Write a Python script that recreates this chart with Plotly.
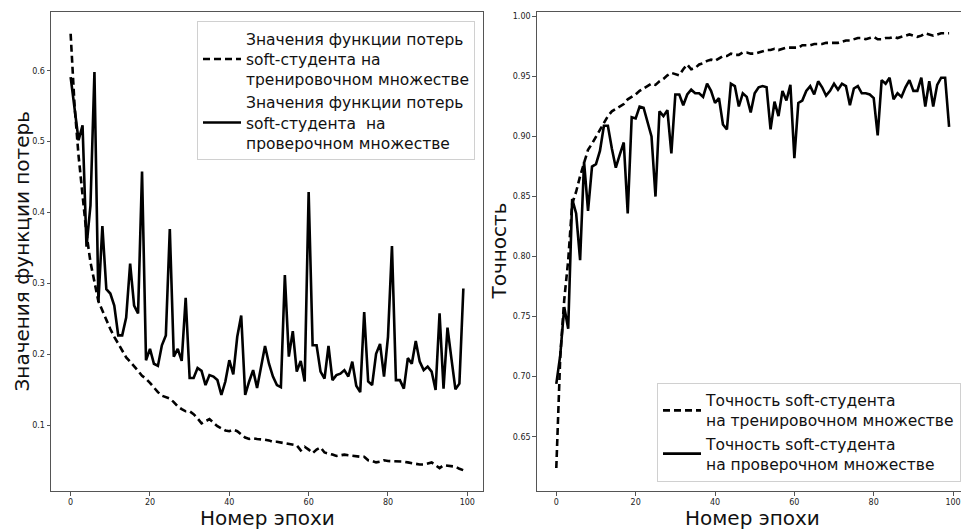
import plotly.graph_objects as go

epochs = list(range(100))

train_loss = [0.652, 0.55, 0.48, 0.42, 0.37, 0.33, 0.30, 0.275, 0.262, 0.248,
              0.236, 0.225, 0.215, 0.205, 0.196, 0.190, 0.184, 0.177, 0.170, 0.166,
              0.160, 0.153, 0.147, 0.142, 0.140, 0.138, 0.133, 0.127, 0.123, 0.120,
              0.120, 0.116, 0.110, 0.103, 0.106, 0.109, 0.104, 0.099, 0.096, 0.093,
              0.092, 0.094, 0.092, 0.087, 0.083, 0.081, 0.082, 0.081, 0.081, 0.080,
              0.079, 0.077, 0.077, 0.076, 0.076, 0.074, 0.073, 0.072, 0.065, 0.070,
              0.066, 0.061, 0.066, 0.069, 0.062, 0.061, 0.059, 0.057, 0.058, 0.059,
              0.058, 0.057, 0.056, 0.056, 0.056, 0.051, 0.050, 0.048, 0.049, 0.051,
              0.050, 0.050, 0.050, 0.049, 0.049, 0.048, 0.047, 0.045, 0.045, 0.045,
              0.046, 0.048, 0.044, 0.040, 0.044, 0.043, 0.043, 0.042, 0.039, 0.037]

val_loss = [0.591, 0.55, 0.502, 0.523, 0.352, 0.410, 0.598, 0.274, 0.381, 0.292,
            0.286, 0.269, 0.227, 0.227, 0.252, 0.328, 0.269, 0.258, 0.458, 0.192,
            0.208, 0.187, 0.184, 0.213, 0.227, 0.377, 0.197, 0.208, 0.191, 0.280,
            0.167, 0.167, 0.181, 0.177, 0.157, 0.171, 0.169, 0.164, 0.143, 0.162,
            0.192, 0.172, 0.225, 0.255, 0.143, 0.162, 0.178, 0.153, 0.180, 0.212,
            0.187, 0.169, 0.157, 0.154, 0.312, 0.197, 0.233, 0.176, 0.191, 0.162,
            0.429, 0.213, 0.213, 0.176, 0.166, 0.212, 0.164, 0.171, 0.173, 0.178,
            0.169, 0.190, 0.156, 0.147, 0.260, 0.162, 0.157, 0.201, 0.215, 0.169,
            0.225, 0.353, 0.164, 0.164, 0.152, 0.195, 0.187, 0.219, 0.190, 0.178,
            0.183, 0.176, 0.150, 0.258, 0.152, 0.238, 0.194, 0.151, 0.159, 0.293]

train_acc = [0.624, 0.717, 0.764, 0.797, 0.844, 0.854, 0.867, 0.878, 0.889, 0.894,
             0.900, 0.906, 0.911, 0.917, 0.921, 0.923, 0.925, 0.927, 0.931, 0.933,
             0.935, 0.938, 0.940, 0.942, 0.944, 0.943, 0.946, 0.948, 0.951, 0.953,
             0.952, 0.951, 0.956, 0.960, 0.956, 0.957, 0.960, 0.961, 0.963, 0.964,
             0.963, 0.965, 0.967, 0.967, 0.969, 0.968, 0.968, 0.970, 0.970, 0.969,
             0.969, 0.970, 0.971, 0.972, 0.972, 0.973, 0.972, 0.973, 0.974, 0.974,
             0.974, 0.974, 0.976, 0.976, 0.976, 0.977, 0.977, 0.977, 0.978, 0.978,
             0.978, 0.978, 0.979, 0.980, 0.980, 0.981, 0.982, 0.982, 0.981, 0.982,
             0.983, 0.981, 0.981, 0.982, 0.982, 0.983, 0.982, 0.983, 0.984, 0.985,
             0.984, 0.983, 0.984, 0.986, 0.985, 0.984, 0.985, 0.986, 0.986, 0.986]

val_acc = [0.694, 0.718, 0.758, 0.740, 0.848, 0.836, 0.797, 0.879, 0.838, 0.875,
           0.877, 0.888, 0.909, 0.909, 0.890, 0.874, 0.885, 0.895, 0.836, 0.916,
           0.915, 0.925, 0.924, 0.912, 0.900, 0.850, 0.921, 0.917, 0.922, 0.886,
           0.935, 0.935, 0.926, 0.935, 0.939, 0.936, 0.936, 0.933, 0.944, 0.938,
           0.928, 0.932, 0.910, 0.906, 0.944, 0.942, 0.925, 0.936, 0.933, 0.920,
           0.936, 0.941, 0.942, 0.941, 0.906, 0.929, 0.917, 0.938, 0.930, 0.943,
           0.882, 0.928, 0.930, 0.938, 0.942, 0.935, 0.946, 0.941, 0.934, 0.938,
           0.944, 0.939, 0.944, 0.942, 0.926, 0.940, 0.942, 0.936, 0.936, 0.935,
           0.932, 0.901, 0.947, 0.944, 0.949, 0.931, 0.936, 0.933, 0.941, 0.947,
           0.938, 0.938, 0.949, 0.925, 0.946, 0.925, 0.943, 0.949, 0.949, 0.908]

loss_ticks = [0.1, 0.2, 0.3, 0.4, 0.5, 0.6]
acc_ticks = [0.65, 0.70, 0.75, 0.80, 0.85, 0.90, 0.95, 1.00]
epoch_ticks = [0, 20, 40, 60, 80, 100]

name_train_loss = "Значения функции потерь<br>soft-студента на<br>тренировочном множестве"
name_val_loss = "Значения функции потерь<br>soft-студента  на<br>проверочном множестве"
name_train_acc = "Точность soft-студента<br>на тренировочном множестве"
name_val_acc = "Точность soft-студента<br>на проверочном множестве"
x_title = "Номер эпохи"
y_title_loss = "Значения функции потерь"
y_title_acc = "Точность"

W, H = 961, 531
FONT = "DejaVu Sans"
LW = 2.6
DASH = "7px,4px"

fig = go.Figure()
fig.add_trace(go.Scatter(x=epochs, y=train_loss, mode="lines", name=name_train_loss,
                         line=dict(color="black", width=LW, dash=DASH),
                         xaxis="x", yaxis="y", legend="legend"))
fig.add_trace(go.Scatter(x=epochs, y=val_loss, mode="lines", name=name_val_loss,
                         line=dict(color="black", width=LW),
                         xaxis="x", yaxis="y", legend="legend"))
fig.add_trace(go.Scatter(x=epochs, y=train_acc, mode="lines", name=name_train_acc,
                         line=dict(color="black", width=LW, dash=DASH),
                         xaxis="x2", yaxis="y2", legend="legend2"))
fig.add_trace(go.Scatter(x=epochs, y=val_acc, mode="lines", name=name_val_acc,
                         line=dict(color="black", width=LW),
                         xaxis="x2", yaxis="y2", legend="legend2"))

def px_x(p):
    return p / W

def px_y(p):
    return (H - p) / H

axis_common = dict(showgrid=False, zeroline=False, showline=True, linecolor="#555",
                   linewidth=1, ticks="outside", ticklen=3.5, tickcolor="#555",
                   tickfont=dict(family=FONT, size=8, color="#222"))

legend_common = dict(bgcolor="rgba(255,255,255,0.8)", bordercolor="#d0d0d0", borderwidth=1,
                     font=dict(family=FONT, size=15.5, color="#111"), tracegroupgap=4,
                     itemwidth=38)

fig.update_layout(
    width=W, height=H,
    margin=dict(l=0, r=0, t=0, b=0),
    paper_bgcolor="white", plot_bgcolor="white",
    font=dict(family=FONT),
    xaxis=dict(domain=[px_x(51), px_x(483)], range=[-4.95, 103.95], anchor="y",
               tickvals=epoch_ticks, mirror=True, **axis_common),
    yaxis=dict(domain=[px_y(491), px_y(12)], range=[0.0077, 0.6827], anchor="x",
               tickvals=loss_ticks, tickformat=".1f", mirror=True, **axis_common),
    xaxis2=dict(domain=[px_x(536.7), 1.0], range=[-4.94, 102.0], anchor="y2",
                tickvals=epoch_ticks, mirror=True, **axis_common),
    yaxis2=dict(domain=[px_y(491), px_y(12)], range=[0.6048, 1.0037], anchor="x2",
                tickvals=acc_ticks, tickformat=".2f", mirror=False, **axis_common),
    legend=dict(x=px_x(475), y=px_y(21.3), xanchor="right", yanchor="top", **legend_common),
    legend2=dict(x=1.0, y=px_y(481.7), xanchor="right", yanchor="bottom", **legend_common),
    showlegend=True,
)

ann_font = dict(family=FONT, size=20, color="#111")
fig.add_annotation(text=x_title, x=px_x(267), y=px_y(518), xref="paper", yref="paper",
                   showarrow=False, font=ann_font, xanchor="center", yanchor="middle")
fig.add_annotation(text=x_title, x=px_x(752.7), y=px_y(518), xref="paper", yref="paper",
                   showarrow=False, font=ann_font, xanchor="center", yanchor="middle")
fig.add_annotation(text=y_title_loss, x=px_x(22), y=px_y(251.5), xref="paper", yref="paper",
                   showarrow=False, font=ann_font, textangle=-90,
                   xanchor="center", yanchor="middle")
fig.add_annotation(text=y_title_acc, x=px_x(499), y=px_y(251.5), xref="paper", yref="paper",
                   showarrow=False, font=ann_font, textangle=-90,
                   xanchor="center", yanchor="middle")

fig.write_html("out.html", config={"displayModeBar": False},
               post_script="document.body.style.margin='0';document.body.style.overflow='hidden';")
